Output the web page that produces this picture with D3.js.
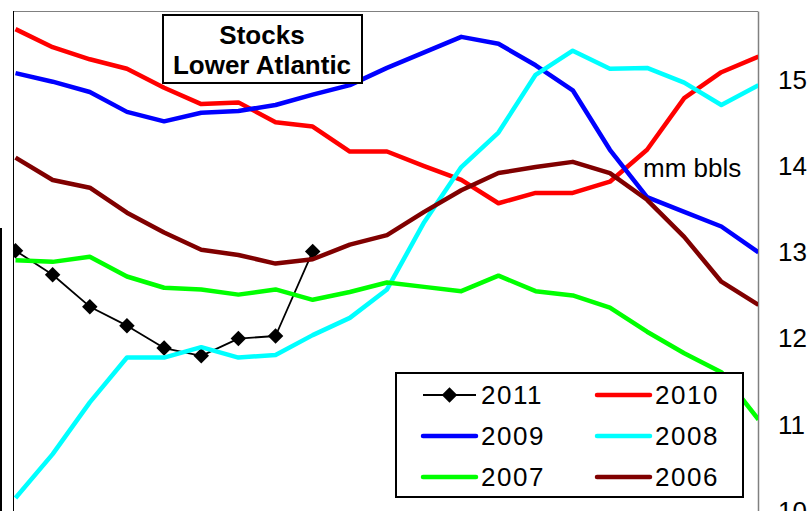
<!DOCTYPE html>
<html>
<head>
<meta charset="utf-8">
<script src="https://cdn.jsdelivr.net/npm/d3@7"></script>
<style>
  html, body { margin: 0; padding: 0; background: #fff; }
  svg { display: block; font-family: "Liberation Sans", Arial, sans-serif; }
</style>
</head>
<body>
<svg id="chart" width="808" height="511"></svg>
<script>
// ---- data (weekly points shown in the crop) ----
const weeks = d3.range(1, 22);
const s2011 = [13.02, 12.74, 12.37, 12.15, 11.89, 11.80, 12.00, 12.03, 13.01];
const s2010 = [15.59, 15.38, 15.24, 15.13, 14.91, 14.72, 14.74, 14.51, 14.46, 14.17, 14.17, 14.00, 13.84, 13.57, 13.69, 13.69, 13.82, 14.19, 14.79, 15.09, 15.27];
const s2009 = [15.08, 14.98, 14.86, 14.63, 14.52, 14.62, 14.64, 14.71, 14.83, 14.94, 15.14, 15.32, 15.50, 15.42, 15.17, 14.88, 14.19, 13.64, 13.47, 13.30, 13.00];
const s2008 = [10.15, 10.66, 11.26, 11.78, 11.78, 11.90, 11.78, 11.81, 12.04, 12.24, 12.57, 13.35, 13.99, 14.39, 15.06, 15.34, 15.13, 15.14, 14.97, 14.71, 14.94];
const s2007 = [12.91, 12.89, 12.95, 12.72, 12.59, 12.57, 12.51, 12.57, 12.45, 12.54, 12.65, 12.60, 12.55, 12.73, 12.55, 12.50, 12.36, 12.08, 11.83, 11.61, 11.06];
const s2006 = [14.10, 13.84, 13.75, 13.46, 13.23, 13.03, 12.97, 12.87, 12.92, 13.09, 13.20, 13.47, 13.72, 13.92, 13.99, 14.05, 13.92, 13.61, 13.18, 12.66, 12.39];
const yTicks = [10, 11, 12, 13, 14, 15];
const titleLines = ["Stocks", "Lower Atlantic"];
const unitLabel = "mm bbls";

const series = [
  { name: "2011", values: s2011, color: "#000000", width: 1.8, marker: true },
  { name: "2010", values: s2010, color: "#ff0000", width: 4.5 },
  { name: "2009", values: s2009, color: "#0000ff", width: 4.5 },
  { name: "2008", values: s2008, color: "#00ffff", width: 4.5 },
  { name: "2007", values: s2007, color: "#00ff00", width: 4.5 },
  { name: "2006", values: s2006, color: "#800000", width: 4.5 }
];

// ---- layout ----
const svg = d3.select("#chart");
const plot = { left: 13, right: 758, top: 11, bottom: 511 };

const x = d3.scalePoint().domain(weeks).range([15.5, 758.5]);
const y = d3.scaleLinear().domain([10, 15.8]).range([511, 11]);

// clip
svg.append("defs").append("clipPath").attr("id", "plotclip")
  .append("rect")
  .attr("x", plot.left).attr("y", plot.top)
  .attr("width", plot.right - plot.left).attr("height", plot.bottom - plot.top);

// stray frame edge at far left
svg.append("rect").attr("x", 0).attr("y", 228).attr("width", 2).attr("height", 283).attr("fill", "#000");

// plot frame
svg.append("line").attr("x1", plot.left).attr("x2", plot.right).attr("y1", plot.top + 0.5).attr("y2", plot.top + 0.5)
  .attr("stroke", "#808080").attr("stroke-width", 1);
svg.append("line").attr("x1", plot.left + 0.5).attr("x2", plot.left + 0.5).attr("y1", plot.top).attr("y2", plot.bottom)
  .attr("stroke", "#000").attr("stroke-width", 1);

// right axis
const yAxis = d3.axisRight(y).tickValues(yTicks).tickSize(0).tickPadding(20).tickFormat(d3.format("d"));
const ax = svg.append("g").attr("transform", `translate(${plot.right},0)`).call(yAxis);
ax.select(".domain").attr("stroke", "#808080").attr("stroke-width", 1.5);
ax.selectAll("text").attr("font-size", 26).attr("fill", "#000")
  .attr("font-family", "'Liberation Sans', Arial, sans-serif");

// lines
const g = svg.append("g").attr("clip-path", "url(#plotclip)");
const line = d3.line().x((d, i) => x(weeks[i])).y(d => y(d));
series.forEach(s => {
  g.append("path").datum(s.values)
    .attr("d", line)
    .attr("fill", "none")
    .attr("stroke", s.color)
    .attr("stroke-width", s.width)
    .attr("stroke-linejoin", "round");
  if (s.marker) {
    g.selectAll(null).data(s.values).enter().append("path")
      .attr("d", d3.symbol(d3.symbolSquare, 120)())
      .attr("transform", (d, i) => `translate(${x(weeks[i])},${y(d)}) rotate(45)`)
      .attr("fill", "#000");
  }
});

// title box
const tb = svg.append("g");
tb.append("rect").attr("x", 163).attr("y", 15).attr("width", 199).attr("height", 68)
  .attr("fill", "#fff").attr("stroke", "#000").attr("stroke-width", 2);
tb.selectAll("text").data(titleLines).enter().append("text")
  .attr("x", 262).attr("y", (d, i) => 44 + i * 30)
  .attr("text-anchor", "middle").attr("font-weight", "bold").attr("font-size", 26)
  .text(d => d);

// unit label
svg.append("text").attr("x", 643).attr("y", 177).attr("font-size", 26).text(unitLabel);

// legend
const lg = svg.append("g");
lg.append("rect").attr("x", 396).attr("y", 373).attr("width", 347).attr("height", 124)
  .attr("fill", "#fff").attr("stroke", "#000").attr("stroke-width", 2);
series.forEach((s, i) => {
  const col = i % 2, row = Math.floor(i / 2);
  const x0 = col === 0 ? 423 : 597;
  const cy = 395 + row * 41;
  lg.append("line").attr("x1", x0).attr("x2", x0 + 53).attr("y1", cy).attr("y2", cy)
    .attr("stroke", s.color).attr("stroke-width", s.marker ? 1.8 : 4.5)
    .attr("stroke-linecap", s.marker ? "butt" : "round");
  if (s.marker) {
    lg.append("path").attr("d", d3.symbol(d3.symbolSquare, 120)())
      .attr("transform", `translate(${x0 + 26.5},${cy}) rotate(45)`).attr("fill", "#000");
  }
  lg.append("text").attr("x", x0 + 58).attr("y", cy).attr("dy", "0.36em")
    .attr("font-size", 26).attr("letter-spacing", 1.5).text(s.name);
});
</script>
</body>
</html>
